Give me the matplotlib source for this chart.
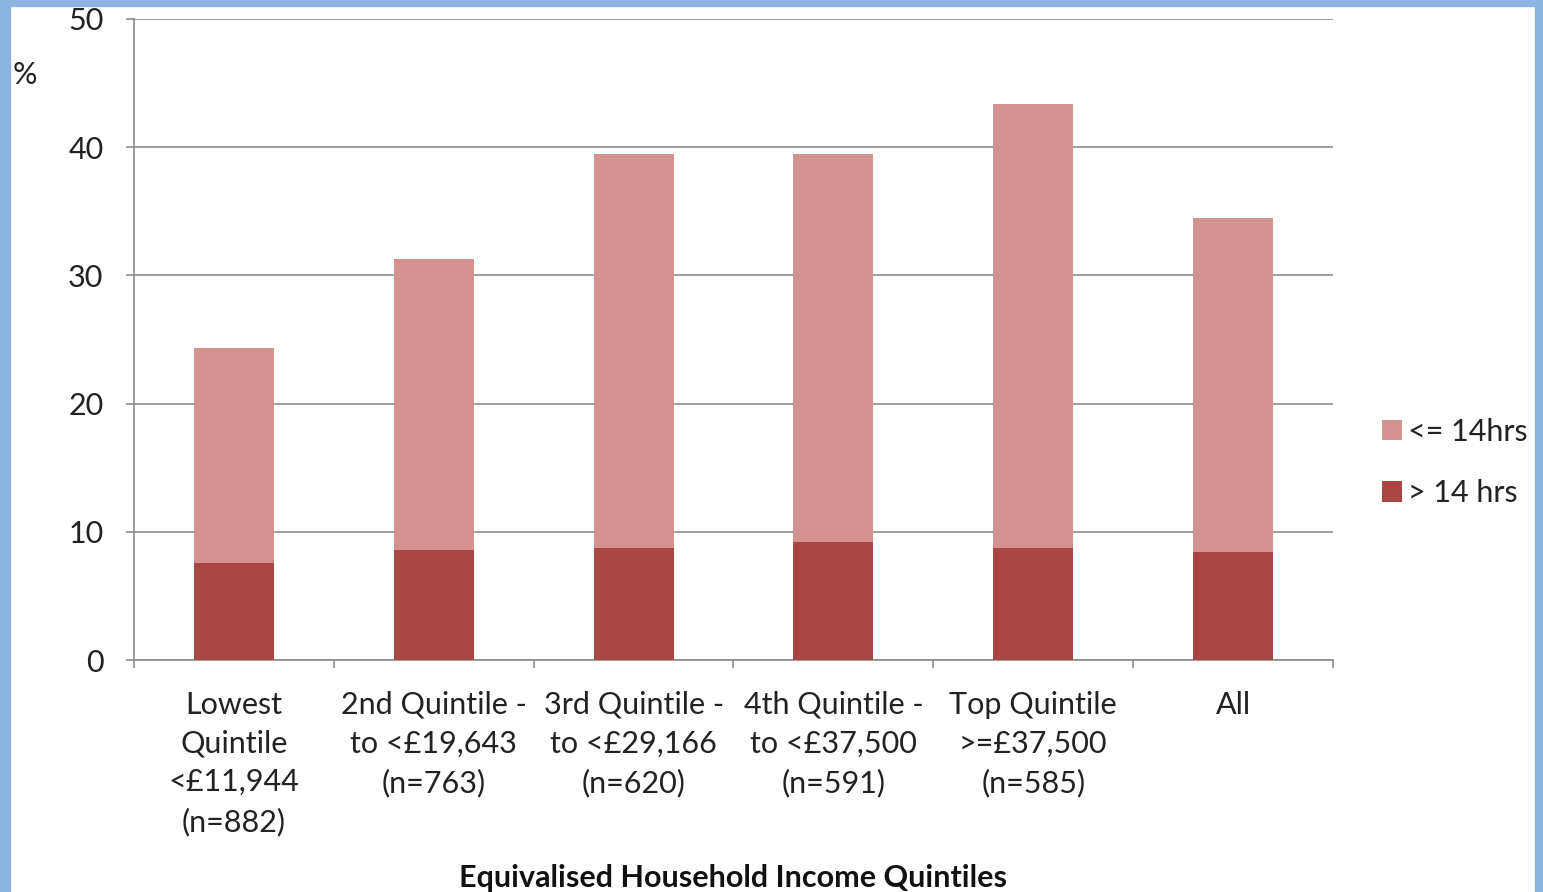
import matplotlib.pyplot as plt
import numpy as np

categories = ["Lowest\nQuintile\n<£11,944\n(n=882)",
              "2nd Quintile -\nto <£19,643\n(n=763)",
              "3rd Quintile -\nto <£29,166\n(n=620)",
              "4th Quintile -\nto <£37,500\n(n=591)",
              "Top Quintile\n>=£37,500\n(n=585)",
              "All"]
over_14 = [7.6, 8.6, 8.7, 9.2, 8.7, 8.4]
upto_14 = [16.7, 22.7, 30.8, 30.3, 34.7, 26.1]

plt.rcParams['font.family'] = ['Lato', 'DejaVu Sans']
fs = 22

fig = plt.figure(figsize=(15.43, 8.92), dpi=100)
fig.patch.set_facecolor('white')
# blue frame round the chart
border = '#8DB3E2'
fig.patches.append(plt.Rectangle((0, 0), 10/1543, 1, transform=fig.transFigure, color=border, zorder=0))
fig.patches.append(plt.Rectangle((1535/1543, 0), 8/1543, 1, transform=fig.transFigure, color=border, zorder=0))
fig.patches.append(plt.Rectangle((0, 886/892), 1, 6/892, transform=fig.transFigure, color=border, zorder=0))

ax = fig.add_axes([134/1543, 232/892, 1199/1543, 641/892])
x = np.arange(len(categories))
b1 = ax.bar(x, over_14, width=0.4, color='#A94744', zorder=3, label='> 14 hrs')
b2 = ax.bar(x, upto_14, bottom=over_14, width=0.4, color='#D39290', zorder=3, label='<= 14hrs')

ax.set_xlim(-0.5, len(categories) - 0.5)
ax.set_ylim(0, 50)
ax.set_yticks(range(0, 51, 10))
ax.yaxis.grid(True, color='#8C8C8C', linewidth=1.2, zorder=0)
for s in ['top', 'right']:
    ax.spines[s].set_visible(False)
for s in ['left', 'bottom']:
    ax.spines[s].set_color('#8C8C8C')
    ax.spines[s].set_linewidth(1.2)

ax.set_xticks(x)
ax.set_xticklabels(categories, fontsize=fs, color='#222222', linespacing=1.47, va='top')
ax.set_xticks(np.arange(-0.5, len(categories)), minor=True)
ax.tick_params(axis='x', which='major', length=0, pad=22)
ax.tick_params(axis='x', which='minor', length=6, color='#8C8C8C', width=1.2)
ax.tick_params(axis='y', labelsize=fs, labelcolor='#222222', length=6, color='#8C8C8C', width=1.2, pad=16)

fig.text(25/1543, 1 - 75/892, '%', fontsize=fs, color='#222222', ha='center', va='center')
fig.text(733/1543, 1 - 878/892, 'Equivalised Household Income Quintiles', fontsize=fs,
         fontweight='bold', ha='center', va='center', color='#111111')

ax.legend(handles=[b2, b1], loc='center left', bbox_to_anchor=(1.028, 0.308), frameon=False,
          fontsize=fs, handlelength=0.65, handleheight=0.65, handletextpad=0.2, labelspacing=1.1,
          labelcolor='#222222', borderpad=0)

fig.savefig('out.png', dpi=100)
